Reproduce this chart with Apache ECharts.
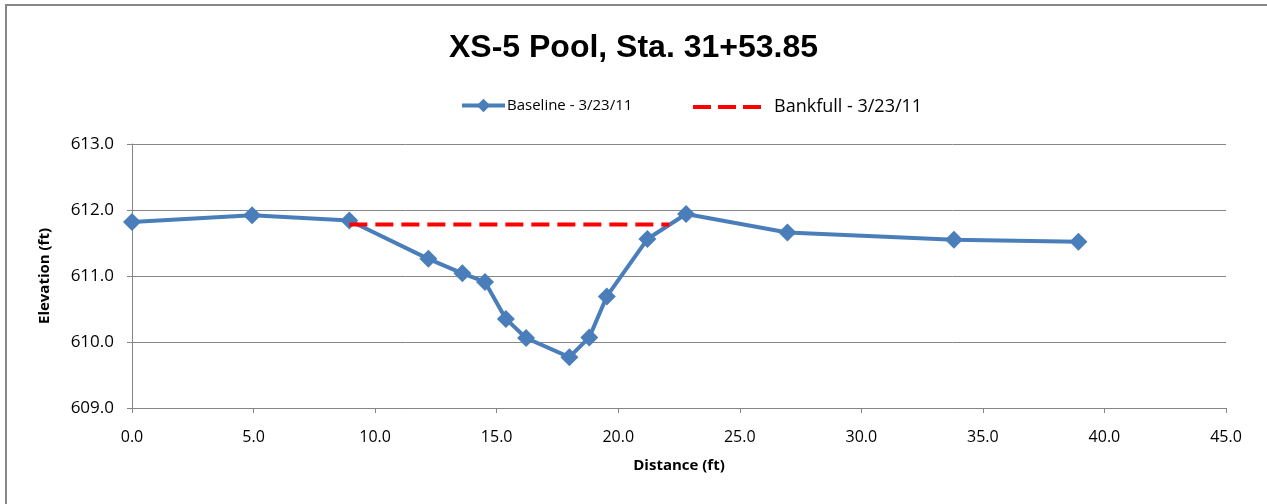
<!DOCTYPE html>
<html>
<head>
<meta charset="utf-8">
<script src="https://cdn.jsdelivr.net/npm/echarts@6/dist/echarts.min.js"></script>
<style>
  html, body { margin: 0; padding: 0; background: #ffffff; }
  #chart { width: 1267px; height: 504px; }
</style>
</head>
<body>
<div id="chart"></div>
<script>
// Cross-section survey: station distance (ft) vs. ground elevation (ft)
const distance = [0.0, 4.94, 8.94, 12.19, 13.59, 14.52, 15.38, 16.21, 17.99, 18.81, 19.53, 21.2, 22.79, 26.96, 33.81, 38.93];
const elevation = [611.82, 611.92, 611.84, 611.26, 611.04, 610.91, 610.35, 610.06, 609.77, 610.07, 610.69, 611.56, 611.94, 611.66, 611.55, 611.52];

// Bankfull stage line (start / end distance, constant elevation)
const bankfullDistance = [8.94, 22.1];
const bankfullElevation = [611.78, 611.78];

const titleText = 'XS-5 Pool, Sta. 31+53.85';
const baselineName = 'Baseline - 3/23/11';
const bankfullName = 'Bankfull - 3/23/11';
const xAxisName = 'Distance (ft)';
const yAxisName = 'Elevation (ft)';

const axisGray = '#868686';
const labelFont = '"Open Sans", "Liberation Sans", sans-serif';

const baselineData = distance.map((d, i) => [d, elevation[i]]);
const bankfullData = bankfullDistance.map((d, i) => [d, bankfullElevation[i]]);

// three short dashes for the bankfull legend key
const dashIcon = 'path://M0,0h18v4h-18z M25,0h18v4h-18z M50,0h18v4h-18z';

const chart = echarts.init(document.getElementById('chart'), null, { renderer: 'canvas' });

chart.setOption({
  backgroundColor: '#ffffff',
  animation: false,
  title: {
    text: titleText,
    left: 'center',
    top: 27,
    textStyle: {
      fontFamily: '"Liberation Sans Narrow", "Liberation Sans", sans-serif',
      fontWeight: 'bold',
      fontSize: 32,
      color: '#000000'
    }
  },
  legend: [
    {
      data: [baselineName],
      left: 455,
      top: 93,
      itemWidth: 43,
      itemHeight: 17,
      itemGap: 4,
      lineStyle: { width: 4 },
      textStyle: { fontFamily: labelFont, fontSize: 15, color: '#000000', padding: [0, 0, 0, -3] }
    },
    {
      data: [{ name: bankfullName, icon: dashIcon }],
      left: 688,
      top: 93,
      itemWidth: 68,
      itemHeight: 4,
      itemGap: 10,
      textStyle: { fontFamily: labelFont, fontSize: 18, color: '#000000', padding: [0, 0, 0, 8] }
    }
  ],
  grid: {
    left: 132,
    right: 41,
    top: 144,
    bottom: 96,
    containLabel: false
  },
  xAxis: {
    type: 'value',
    min: 0,
    max: 45,
    interval: 5,
    name: xAxisName,
    nameLocation: 'middle',
    nameGap: 50,
    nameTextStyle: { fontFamily: labelFont, fontWeight: 'bold', fontSize: 15, color: '#000000' },
    axisLine: { show: true, lineStyle: { color: axisGray, width: 1 } },
    axisTick: { show: true, inside: false, length: 5, lineStyle: { color: axisGray } },
    axisLabel: {
      margin: 21,
      fontFamily: labelFont,
      fontSize: 16,
      color: '#000000',
      formatter: v => v.toFixed(1)
    },
    splitLine: { show: false }
  },
  yAxis: {
    type: 'value',
    min: 609,
    max: 613,
    interval: 1,
    name: yAxisName,
    nameLocation: 'middle',
    nameRotate: 90,
    nameGap: 80,
    nameTextStyle: { fontFamily: labelFont, fontWeight: 'bold', fontSize: 15, color: '#000000' },
    axisLine: { show: true, lineStyle: { color: axisGray, width: 1 } },
    axisTick: { show: true, inside: false, length: 5, lineStyle: { color: axisGray } },
    axisLabel: {
      margin: 18,
      fontFamily: labelFont,
      fontSize: 17,
      color: '#000000',
      formatter: v => v.toFixed(1)
    },
    splitLine: { show: true, lineStyle: { color: axisGray, width: 1 } }
  },
  graphic: [
    {
      type: 'rect',
      silent: true,
      z: 100,
      shape: { x: 6, y: 5, width: 1300, height: 600 },
      style: { fill: 'none', stroke: axisGray, lineWidth: 2 }
    }
  ],
  series: [
    {
      name: baselineName,
      type: 'line',
      data: baselineData,
      symbol: 'diamond',
      symbolSize: 18,
      showAllSymbol: true,
      lineStyle: { color: '#4a7ebb', width: 4 },
      itemStyle: { color: '#4a7ebb' },
      z: 2
    },
    {
      name: bankfullName,
      type: 'line',
      data: bankfullData,
      symbol: 'none',
      lineStyle: { color: '#ff0000', width: 4, type: [18, 8] },
      itemStyle: { color: '#ff0000' },
      z: 3
    }
  ]
});
</script>
</body>
</html>
